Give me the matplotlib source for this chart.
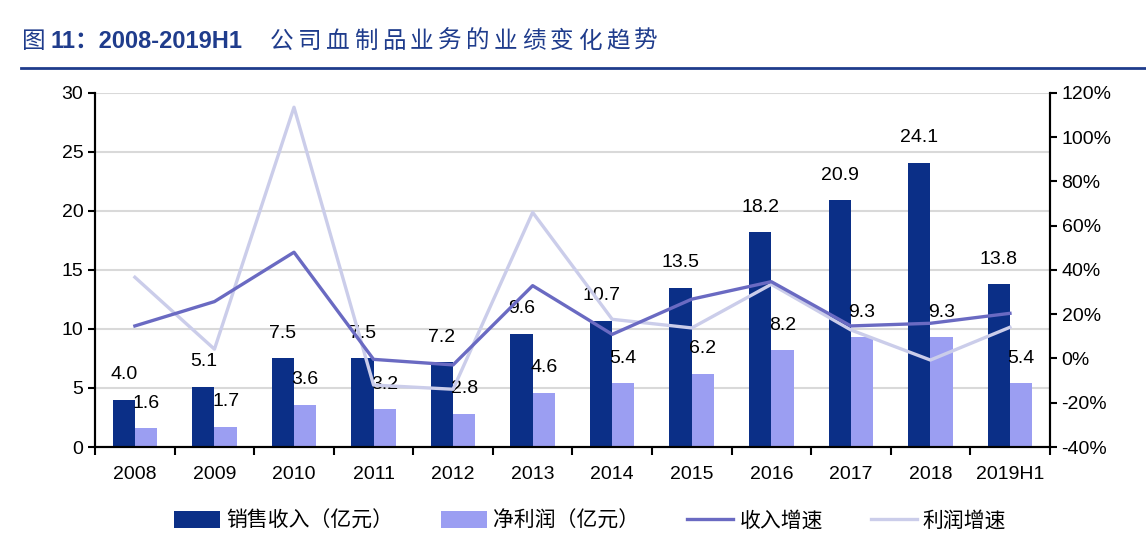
import matplotlib
matplotlib.use("Agg")
import matplotlib.pyplot as plt
from matplotlib.ticker import FuncFormatter
import numpy as np

plt.rcParams['font.family'] = ['Liberation Sans Narrow', 'Liberation Sans', 'Noto Sans CJK SC', 'DejaVu Sans']

years = ['2008', '2009', '2010', '2011', '2012', '2013', '2014', '2015', '2016', '2017', '2018', '2019H1']
sales = [4.0, 5.1, 7.5, 7.5, 7.2, 9.6, 10.7, 13.5, 18.2, 20.9, 24.1, 13.8]
profit = [1.6, 1.7, 3.6, 3.2, 2.8, 4.6, 5.4, 6.2, 8.2, 9.3, 9.3, 5.4]
sales_growth = [14.7, 25.7, 48.0, -0.4, -2.9, 32.9, 10.9, 26.8, 34.7, 14.7, 15.9, 20.4]
profit_growth = [36.7, 4.2, 113.5, -12.0, -13.9, 66.0, 17.7, 13.8, 33.5, 12.9, -0.7, 14.1]
title_cn = '公司血制品业务的业绩变化趋势'

c_sales = '#0B2F87'
c_profit = '#9B9EF2'
c_sg = '#6A6AC2'
c_pg = '#CBCDEA'
c_title = '#1F3C8C'

fig = plt.figure(figsize=(11.46, 5.56), dpi=100)
ax = fig.add_axes([0.083, 0.196, 0.833, 0.637])
ax2 = ax.twinx()

x = np.arange(len(years))
w = 0.28
b1 = ax.bar(x - w/2, sales, w, color=c_sales, label='销售收入（亿元）', zorder=2)
b2 = ax.bar(x + w/2, profit, w, color=c_profit, label='净利润（亿元）', zorder=2)

for xi, v in zip(x - w/2, sales):
    ax.annotate('%.1f' % v, (xi, v), xytext=(0, 18), textcoords='offset points',
                ha='center', va='center', fontsize=14, zorder=3)
for xi, v in zip(x + w/2, profit):
    ax.annotate('%.1f' % v, (xi, v), xytext=(0, 18), textcoords='offset points',
                ha='center', va='center', fontsize=14, zorder=3)

l1, = ax2.plot(x, sales_growth, color=c_sg, lw=2.4, label='收入增速', zorder=4)
l2, = ax2.plot(x, profit_growth, color=c_pg, lw=2.4, label='利润增速', zorder=3)

ax.set_xlim(-0.5, len(years) - 0.5)
ax.set_ylim(0, 30)
ax.set_yticks(np.arange(0, 31, 5))
ax2.set_ylim(-40, 120)
ax2.set_yticks(np.arange(-40, 121, 20))
ax2.yaxis.set_major_formatter(FuncFormatter(lambda v, p: '%d%%' % v))

ax.grid(axis='y', color='#D9D9D9', lw=1.5, zorder=0)
ax.set_axisbelow(True)
ax.set_xticks(x)
ax.set_xticklabels(years)
ax.set_xticks(np.arange(-0.5, len(years)), minor=True)
ax.tick_params(axis='x', which='major', length=0, labelsize=14, pad=14)
ax.tick_params(axis='x', which='minor', length=6, width=1.5, direction='out')
ax.tick_params(axis='y', labelsize=14, length=5, width=1.5, direction='out')
ax2.tick_params(axis='y', labelsize=14, length=5, width=1.5, direction='out')

for a in (ax, ax2):
    a.spines['top'].set_visible(False)
    for s in ('left', 'right', 'bottom'):
        a.spines[s].set_linewidth(1.5)

fig.legend(handles=[b1, b2, l1, l2], loc='center', bbox_to_anchor=(0.515, 0.063), ncol=4,
           frameon=False, handlelength=2.2, handleheight=0.9, handletextpad=0.3,
           columnspacing=2.3, prop={'family': ['Noto Sans CJK SC'], 'size': 15})

# title
fig.text(22 / 1146, 0.925, '图', fontsize=17, color=c_title, family=['Noto Sans CJK SC'],
         va='center', ha='left')
fig.text(50 / 1146, 0.925, '11：2008-2019H1', fontsize=17, color=c_title, fontweight='bold',
         family=['Liberation Sans', 'Noto Sans CJK SC'], va='center', ha='left')
for i, ch in enumerate(title_cn):
    fig.text((270 + 28 * i) / 1146, 0.925, ch, fontsize=17, color=c_title,
             family=['Noto Sans CJK SC'], va='center', ha='left')
fig.add_artist(plt.Line2D([0.018, 1.0], [0.878, 0.878], color=c_title, lw=2))

fig.savefig('out.png', dpi=100)
